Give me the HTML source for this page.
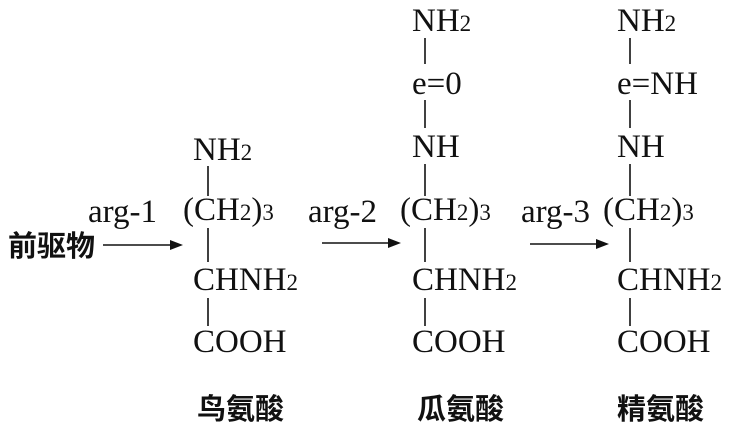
<!DOCTYPE html>
<html><head><meta charset="utf-8"><style>
html,body{margin:0;padding:0;background:#fff;}
svg{display:block}
.t{font-family:"Liberation Serif",serif;font-size:33px;fill:#111;}
.s{font-size:23px;}
.c{font-family:"Liberation Sans","Noto Sans CJK SC",sans-serif;font-size:29px;fill:#111;}
.b{font-weight:bold;}
</style></head><body>
<svg width="739" height="427" viewBox="0 0 739 427" xmlns="http://www.w3.org/2000/svg">
<g stroke="#111" stroke-width="1.6" fill="none">
<line x1="208" y1="166" x2="208" y2="196"/>
<line x1="208" y1="228" x2="208" y2="262"/>
<line x1="208" y1="298" x2="208" y2="326"/>
<line x1="425" y1="38" x2="425" y2="64"/>
<line x1="425" y1="100" x2="425" y2="128"/>
<line x1="425" y1="164" x2="425" y2="196"/>
<line x1="425" y1="228" x2="425" y2="262"/>
<line x1="425" y1="298" x2="425" y2="326"/>
<line x1="630" y1="38" x2="630" y2="64"/>
<line x1="630" y1="100" x2="630" y2="128"/>
<line x1="630" y1="164" x2="630" y2="196"/>
<line x1="630" y1="228" x2="630" y2="262"/>
<line x1="630" y1="298" x2="630" y2="326"/>
<line x1="103" y1="245" x2="176" y2="245"/>
<line x1="322" y1="243" x2="394" y2="243"/>
<line x1="530" y1="244" x2="602" y2="244"/>
</g>
<g fill="#111">
<polygon points="183,245 170,240 170,250"/>
<polygon points="401,243 388,238 388,248"/>
<polygon points="609,244 596,239 596,249"/>
</g>
<text class="t" x="193" y="160">NH<tspan class="s">2</tspan></text>
<text class="t" x="88" y="222">arg-1</text>
<text class="t" x="183" y="220">(CH<tspan class="s">2</tspan>)<tspan class="s">3</tspan></text>
<text class="t" x="193" y="290">CHNH<tspan class="s">2</tspan></text>
<text class="t" x="193" y="352">COOH</text>
<text class="t" x="412" y="31">NH<tspan class="s">2</tspan></text>
<text class="t" x="412" y="94">e=0</text>
<text class="t" x="412" y="157">NH</text>
<text class="t" x="308" y="222">arg-2</text>
<text class="t" x="400" y="220">(CH<tspan class="s">2</tspan>)<tspan class="s">3</tspan></text>
<text class="t" x="412" y="290">CHNH<tspan class="s">2</tspan></text>
<text class="t" x="412" y="352">COOH</text>
<text class="t" x="617" y="31">NH<tspan class="s">2</tspan></text>
<text class="t" x="617" y="94">e=NH</text>
<text class="t" x="617" y="157">NH</text>
<text class="t" x="521" y="222">arg-3</text>
<text class="t" x="603" y="220">(CH<tspan class="s">2</tspan>)<tspan class="s">3</tspan></text>
<text class="t" x="617" y="290">CHNH<tspan class="s">2</tspan></text>
<text class="t" x="617" y="352">COOH</text>
<text class="c b" x="8" y="256">前驱物</text>
<text class="c b" x="197" y="419">鸟氨酸</text>
<text class="c b" x="417" y="419">瓜氨酸</text>
<text class="c b" x="617" y="419">精氨酸</text>
</svg>
</body></html>
